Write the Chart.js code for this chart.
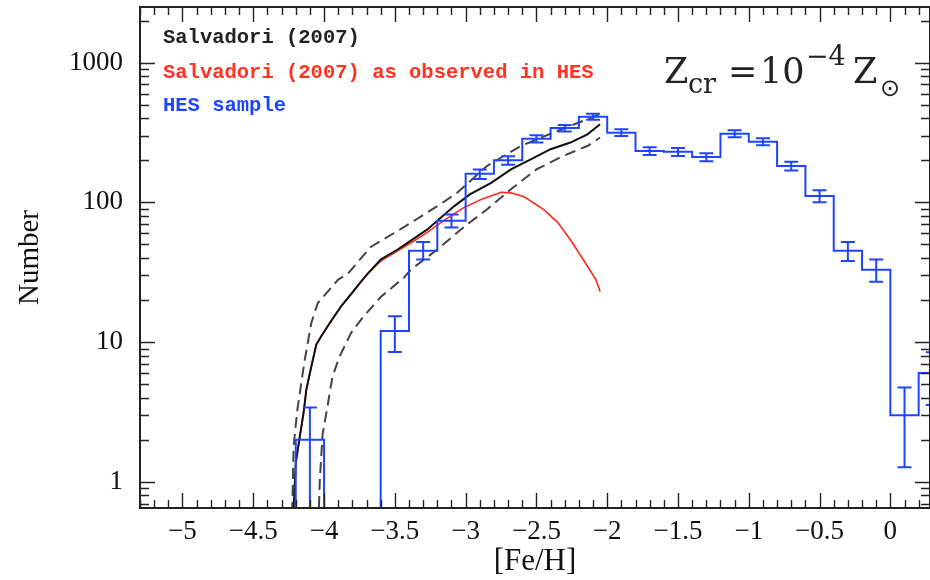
<!DOCTYPE html>
<html>
<head>
<meta charset="utf-8">
<script src="https://cdn.jsdelivr.net/npm/chart.js@4.4.1/dist/chart.umd.min.js"></script>
<style>
  html, body { margin: 0; padding: 0; background: #fff; }
  #wrap { width: 930px; height: 580px; }
</style>
</head>
<body>
<div id="wrap"><canvas id="chart" width="930" height="580"></canvas></div>
<script>
// HES sample histogram, 0.2 dex bins (left edges) and counts
var hesBinLeft = [-4.2, -4.0, -3.8, -3.6, -3.4, -3.2, -3.0, -2.8, -2.6, -2.4, -2.2, -2.0, -1.8, -1.6, -1.4, -1.2, -1.0, -0.8, -0.6, -0.4, -0.2, 0.0, 0.2];
var hesCounts  = [2, 0, 0, 12, 45, 74, 160, 200, 285, 340, 410, 315, 233, 230, 211, 310, 272, 182, 111, 45, 33, 3, 6];
var hesErrLo   = [0.59, null, null, 8.5, 39, 66, 147, 186, 268, 322, 390, 298, 218, 215, 197, 292, 256, 169, 100, 38, 27, 1.27, 3.55];
var hesErrHi   = [3.41, null, null, 15.3, 52, 82, 172, 214, 302, 358, 430, 333, 248, 245, 225, 328, 288, 195, 122, 52, 39, 4.73, 8.45];
var binWidth = 0.2;

// Salvadori (2007) model
var salvX = [-4.22, -4.20, -4.175, -4.145, -4.125, -4.09, -4.055, -4.02, -3.96, -3.88, -3.81, -3.74, -3.69, -3.60, -3.48, -3.39, -3.27, -3.18, -3.08, -2.97, -2.82, -2.68, -2.54, -2.40, -2.26, -2.14, -2.05];
var salvY = [0.5, 1.36, 2.0, 3.1, 4.6, 6.7, 9.6, 11, 13.7, 18, 22, 27, 31, 39, 46, 53, 64, 77, 94, 114, 138, 172, 203, 240, 268, 307, 362];

// Salvadori (2007) as observed in HES
var obsX = [-4.20, -4.175, -4.145, -4.125, -4.09, -4.055, -4.02, -3.96, -3.88, -3.81, -3.74, -3.69, -3.60, -3.48, -3.39, -3.27, -3.18, -3.08, -3.01, -2.89, -2.75, -2.68, -2.59, -2.45, -2.35, -2.26, -2.17, -2.08, -2.05];
var obsY = [1.36, 2.0, 3.1, 4.5, 6.6, 9.5, 11, 13.6, 18, 22, 27, 31, 38, 45, 51, 61, 71, 83, 92, 105, 118, 117, 110, 89, 72, 54, 39, 28, 23];

// model range (dashed)
var upperX = [-4.225, -4.215, -4.19, -4.14, -4.09, -4.045, -3.90, -3.83, -3.67, -3.43, -3.20, -3.06, -2.85, -2.61, -2.38, -2.14, -2.05];
var upperY = [0.6, 1.8, 3.2, 7.1, 13.7, 19, 28, 31, 48, 67, 94, 117, 182, 253, 316, 394, 427];
var lowerX = [-4.04, -4.03, -4.01, -3.975, -3.94, -3.89, -3.81, -3.72, -3.60, -3.435, -3.387, -3.20, -3.01, -2.85, -2.68, -2.50, -2.31, -2.14, -2.05];
var lowerY = [0.5, 1.03, 2.2, 3.5, 5.7, 7.9, 11.6, 15.3, 21, 29, 33, 46, 67, 89, 124, 172, 215, 253, 291];

var xTickValues = [-5, -4.5, -4, -3.5, -3, -2.5, -2, -1.5, -1, -0.5, 0];
var yTickValues = [1, 10, 100, 1000];
var xMin = -5.3, xMax = 0.28, yMin = 0.65, yMax = 2500;

var blue = '#1f45ff';

function pts(xs, ys) {
    var out = [];
    for (var i = 0; i < xs.length; i++) out.push({x: xs[i], y: ys[i]});
    return out;
}

// step outline of the histogram; empty bins are sent below the axis
// (a log scale drops zeros) and get clipped at the frame
var floorY = yMin / 10;
function stepY(c) { return c > 0 ? c : floorY; }
var histPts = [{x: hesBinLeft[0], y: floorY}];
for (var i = 0; i < hesBinLeft.length; i++) histPts.push({x: hesBinLeft[i], y: stepY(hesCounts[i])});
histPts.push({x: hesBinLeft[hesBinLeft.length - 1] + binWidth, y: stepY(hesCounts[hesCounts.length - 1])});

function minus(s) { return String(s).replace('-', '\u2212'); }

var errorBars = {
    id: 'errorBars',
    afterDatasetsDraw: function(chart) {
        var ctx = chart.ctx, a = chart.chartArea;
        var xs = chart.scales.x, ys = chart.scales.y;
        ctx.save();
        ctx.beginPath();
        ctx.rect(a.left, a.top, a.right - a.left, a.bottom - a.top);
        ctx.clip();
        ctx.strokeStyle = blue;
        ctx.lineWidth = 2;
        ctx.beginPath();
        for (var i = 0; i < hesBinLeft.length; i++) {
            if (hesErrLo[i] == null) continue;
            var px = xs.getPixelForValue(hesBinLeft[i] + binWidth / 2);
            var lo = ys.getPixelForValue(hesErrLo[i]);
            var hi = ys.getPixelForValue(hesErrHi[i]);
            ctx.moveTo(px, lo); ctx.lineTo(px, hi);
            ctx.moveTo(px - 7, lo); ctx.lineTo(px + 7, lo);
            ctx.moveTo(px - 7, hi); ctx.lineTo(px + 7, hi);
        }
        ctx.stroke();
        ctx.restore();
    }
};

var frameTicks = {
    id: 'frameTicks',
    afterDraw: function(chart) {
        var ctx = chart.ctx, a = chart.chartArea;
        var xs = chart.scales.x, ys = chart.scales.y;
        ctx.save();
        ctx.strokeStyle = '#222';
        ctx.lineWidth = 1.4;
        ctx.beginPath();
        for (var i = Math.ceil(xMin * 10); i <= Math.floor(xMax * 10); i++) {
            var px = Math.round(xs.getPixelForValue(i / 10)) + 0.5;
            var len = (i % 5 === 0) ? 15 : 8;
            ctx.moveTo(px, a.bottom); ctx.lineTo(px, a.bottom - len);
            ctx.moveTo(px, a.top); ctx.lineTo(px, a.top + len);
        }
        for (var d = -1; d <= 3; d++) {
            for (var m = 1; m <= 9; m++) {
                var v = m * Math.pow(10, d);
                if (v < yMin || v > yMax) continue;
                var py = Math.round(ys.getPixelForValue(v)) + 0.5;
                var l = (m === 1) ? 15 : 9;
                ctx.moveTo(a.left, py); ctx.lineTo(a.left + l, py);
                ctx.moveTo(a.right, py); ctx.lineTo(a.right - l, py);
            }
        }
        ctx.stroke();
        ctx.lineWidth = 2;
        ctx.strokeRect(a.left, a.top, a.right - a.left, a.bottom - a.top);

        // legend text
        ctx.font = 'bold 20.5px "Liberation Mono", monospace';
        ctx.textBaseline = 'alphabetic';
        ctx.textAlign = 'left';
        ctx.fillStyle = '#222';
        ctx.fillText('Salvadori (2007)', 163, 43);
        ctx.fillStyle = '#ff3322';
        ctx.fillText('Salvadori (2007) as observed in HES', 163, 78);
        ctx.fillStyle = blue;
        ctx.fillText('HES sample', 163, 111);

        // Z_cr = 10^-4 Z_sun
        ctx.fillStyle = '#222';
        ctx.font = '35px "DejaVu Serif", serif';
        ctx.fillText('Z', 664, 83);
        ctx.fillText('=', 728, 83);
        ctx.fillText('10', 760, 83);
        ctx.fillText('Z', 853, 83);
        ctx.font = '27px "DejaVu Serif", serif';
        ctx.fillText('cr', 688, 93);
        ctx.fillText('\u22124', 806, 65);
        ctx.font = '24px "DejaVu Sans", sans-serif';
        ctx.fillText('\u2299', 880, 96);
        ctx.restore();
    }
};

new Chart(document.getElementById('chart'), {
    type: 'line',
    data: {
        datasets: [
            { label: 'HES sample', data: histPts, stepped: 'before', borderColor: blue, borderWidth: 2, pointRadius: 0, fill: false, clip: 0 },
            { label: 'Salvadori (2007)', data: pts(salvX, salvY), borderColor: '#111', borderWidth: 2, pointRadius: 0, tension: 0, fill: false, clip: 0 },
            { label: 'Salvadori (2007) as observed in HES', data: pts(obsX, obsY), borderColor: '#ff2a1a', borderWidth: 1.6, pointRadius: 0, tension: 0, fill: false, clip: 0 },
            { label: 'upper', data: pts(upperX, upperY), borderColor: '#444', borderWidth: 2, borderDash: [11, 6], pointRadius: 0, tension: 0, fill: false, clip: 0 },
            { label: 'lower', data: pts(lowerX, lowerY), borderColor: '#444', borderWidth: 2, borderDash: [11, 6], pointRadius: 0, tension: 0, fill: false, clip: 0 }
        ]
    },
    options: {
        responsive: false,
        animation: false,
        devicePixelRatio: 1,
        layout: { padding: { top: 7, right: 0, left: 0, bottom: 0 } },
        plugins: { legend: { display: false }, tooltip: { enabled: false } },
        scales: {
            x: {
                type: 'linear',
                min: xMin, max: xMax,
                grid: { display: false },
                border: { display: false },
                afterFit: function(s) { s.height = 72; s.paddingLeft = 0; s.paddingRight = 0; },
                afterBuildTicks: function(s) { s.ticks = xTickValues.map(function(v) { return {value: v}; }); },
                ticks: {
                    autoSkip: false, maxRotation: 0, padding: 0,
                    color: '#111',
                    font: { family: '"Liberation Serif", serif', size: 27 },
                    callback: function(v) { return minus(v); }
                },
                title: {
                    display: true, text: '[Fe/H]', color: '#111',
                    font: { family: '"Liberation Serif", serif', size: 31 },
                    padding: { top: 0, bottom: 0 }
                }
            },
            y: {
                type: 'logarithmic',
                min: yMin, max: yMax,
                grid: { display: false },
                border: { display: false },
                afterFit: function(s) { s.width = 140; s.paddingTop = 0; s.paddingBottom = 0; },
                afterBuildTicks: function(s) { s.ticks = yTickValues.map(function(v) { return {value: v}; }); },
                ticks: {
                    autoSkip: false, padding: 9,
                    color: '#111',
                    font: { family: '"Liberation Serif", serif', size: 27 },
                    callback: function(v) { return String(v); }
                },
                title: {
                    display: true, text: 'Number', color: '#111',
                    font: { family: '"Liberation Serif", serif', size: 29 },
                    padding: { top: 13, bottom: 0 }
                }
            }
        }
    },
    plugins: [errorBars, frameTicks]
});
</script>
</body>
</html>
